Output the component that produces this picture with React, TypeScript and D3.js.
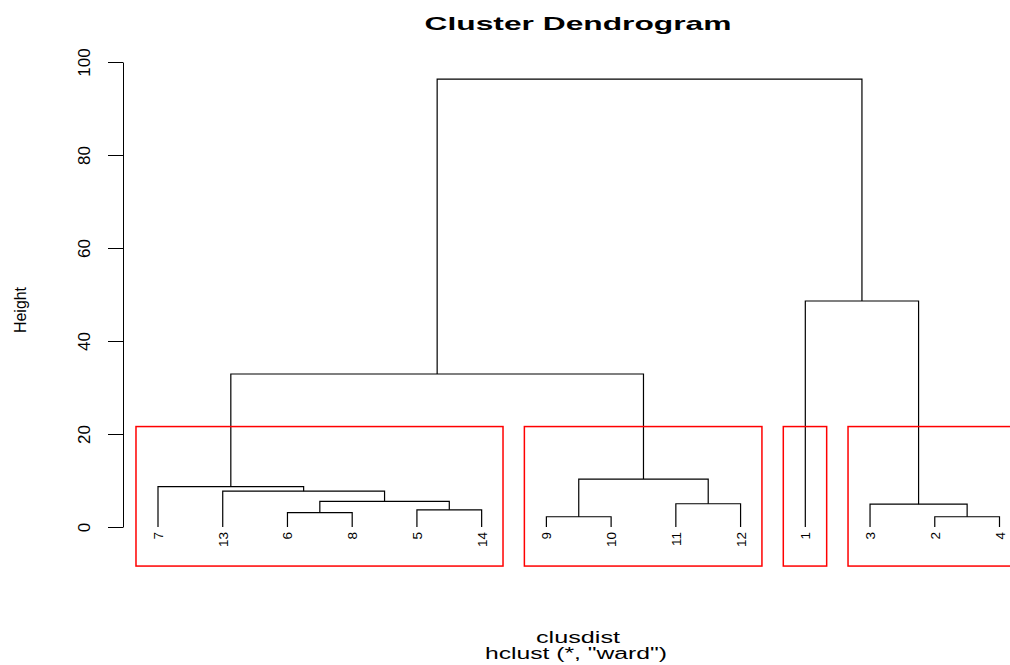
import React, { useRef, useEffect } from "react";
import * as d3 from "d3";

// leaf labels in the order they are drawn
const leafOrder = ["7", "13", "6", "8", "5", "14", "9", "10", "11", "12", "1", "3", "2", "4"];

// hclust-style merge matrix: negative = leaf label, positive = earlier merge (1-based)
const mergePairs: [number, number][] = [
  [-6, -8],
  [-5, -14],
  [-9, -10],
  [-2, -4],
  [-11, -12],
  [-3, 4],
  [1, 2],
  [-13, 7],
  [-7, 8],
  [3, 5],
  [9, 10],
  [-1, 6],
  [11, 12],
];
const mergeHeights = [3.1, 3.7, 2.2, 2.2, 5.0, 4.9, 5.5, 7.7, 8.7, 10.3, 32.9, 48.6, 96.3];

const yTicks = [0, 20, 40, 60, 80, 100];

// rect.hclust(k = 4): number of leaves per cluster, left to right
const clusterSizes = [6, 4, 1, 3];
const k = 4;
const usrBottom = -8.4;

const W = 1010;
const H = 665;

const App = () => {
  const svgRef = useRef<SVGSVGElement>(null);

  useEffect(() => {
    const svg = d3.select(svgRef.current);
    svg.selectAll("*").remove();

    const x = d3.scaleLinear().domain([1, leafOrder.length]).range([158, 999.5]);
    const y = d3.scaleLinear().domain([0, 100]).range([527, 62]);

    // position of every node (leaf or merge)
    const nodePos = (id: number): { x: number; h: number } => {
      if (id < 0) {
        const idx = leafOrder.indexOf(String(-id));
        return { x: x(idx + 1), h: 0 };
      }
      const [a, b] = mergePairs[id - 1];
      return { x: (nodePos(a).x + nodePos(b).x) / 2, h: mergeHeights[id - 1] };
    };

    // title
    svg.append("text")
      .attr("x", 578)
      .attr("y", 30)
      .attr("text-anchor", "middle")
      .attr("font-family", "Liberation Sans, Arial, sans-serif")
      .attr("font-weight", "bold")
      .attr("font-size", 19)
      .attr("textLength", 307)
      .attr("lengthAdjust", "spacingAndGlyphs")
      .text("Cluster Dendrogram");

    // y axis
    const axis = svg.append("g")
      .attr("transform", "translate(123,0)")
      .call(d3.axisLeft(y).tickValues(yTicks).tickSize(15).tickSizeOuter(0).tickFormat(d3.format("d")));
    axis.selectAll("path, line").attr("stroke", "#000").attr("stroke-width", 1);
    axis.selectAll("text")
      .attr("x", null)
      .attr("dy", null)
      .attr("transform", "translate(-33.5,0) rotate(-90)")
      .attr("text-anchor", "middle")
      .attr("font-family", "Liberation Sans, Arial, sans-serif")
      .attr("font-size", 17)
      .attr("fill", "#000");

    svg.append("text")
      .attr("transform", "translate(26,310) rotate(-90)")
      .attr("text-anchor", "middle")
      .attr("font-family", "Liberation Sans, Arial, sans-serif")
      .attr("font-size", 17)
      .attr("textLength", 46)
      .attr("lengthAdjust", "spacingAndGlyphs")
      .text("Height");

    // dendrogram segments
    const g = svg.append("g").attr("fill", "none").attr("stroke", "#000").attr("stroke-width", 1.2);
    mergePairs.forEach(([a, b], i) => {
      const pa = nodePos(a);
      const pb = nodePos(b);
      const h = mergeHeights[i];
      g.append("path")
        .attr("d", `M${pa.x},${y(pa.h)}V${y(h)}H${pb.x}V${y(pb.h)}`);
    });

    // leaf labels
    svg.append("g")
      .selectAll("text")
      .data(leafOrder)
      .join("text")
      .attr("transform", (d, i) => `translate(${x(i + 1) + 5},532) rotate(-90)`)
      .attr("text-anchor", "end")
      .attr("font-family", "Liberation Sans, Arial, sans-serif")
      .attr("font-size", 13.5)
      .text(d => d);

    // cluster rectangles
    const sortedH = [...mergeHeights].sort((a, b) => b - a);
    const rectTop = (sortedH[k - 2] + sortedH[k - 1]) / 2;
    let start = 1;
    clusterSizes.forEach(n => {
      const x0 = x(start - 0.34);
      const x1 = x(start + n - 1 + 0.33);
      svg.append("rect")
        .attr("x", x0)
        .attr("y", y(rectTop))
        .attr("width", x1 - x0)
        .attr("height", y(usrBottom) - y(rectTop))
        .attr("fill", "none")
        .attr("stroke", "#ff0000")
        .attr("stroke-width", 1.5);
      start += n;
    });

    // sub titles
    svg.append("text")
      .attr("x", 578)
      .attr("y", 643)
      .attr("text-anchor", "middle")
      .attr("font-family", "Liberation Sans, Arial, sans-serif")
      .attr("font-size", 16)
      .attr("textLength", 84)
      .attr("lengthAdjust", "spacingAndGlyphs")
      .text("clusdist");

    svg.append("text")
      .attr("x", 576)
      .attr("y", 659)
      .attr("text-anchor", "middle")
      .attr("font-family", "Liberation Sans, Arial, sans-serif")
      .attr("font-size", 16)
      .attr("textLength", 182)
      .attr("lengthAdjust", "spacingAndGlyphs")
      .text('hclust (*, "ward")');
  }, []);

  return (
    <svg
      ref={svgRef}
      width={W}
      height={H}
      style={{ position: "absolute", left: 0, top: 0, background: "#fff" }}
    />
  );
};

export default App;
